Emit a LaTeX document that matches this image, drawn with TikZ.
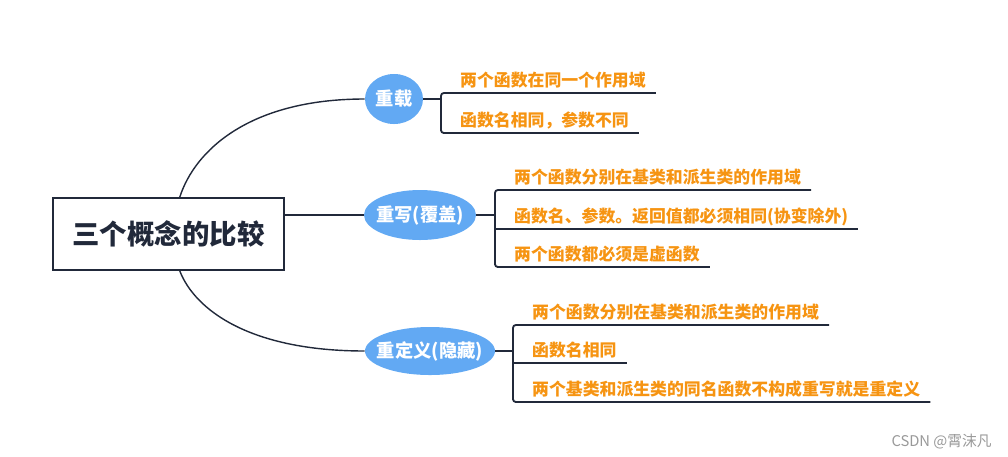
\documentclass[tikz,border=0pt]{standalone}
\usepackage{fontspec}
\setmainfont{Noto Sans CJK SC}
\usetikzlibrary{shapes.geometric}
\definecolor{navy}{RGB}{33,41,58}
\definecolor{topicblue}{RGB}{98,169,243}
\definecolor{itemorange}{RGB}{246,148,18}
\newcommand{\zerowidth}[1]{\makebox[0pt]{#1}}

\begin{document}
\begin{tikzpicture}[x=0.025cm, y=-0.025cm,
    root/.style={draw=navy, line width=1.4pt, minimum width=5.775cm, minimum height=1.8cm,
        text=navy, font=\fontsize{19.5}{20}\selectfont\bfseries},
    topic/.style={ellipse, fill=topicblue, inner sep=0pt, minimum height=1.25cm,
        text=white, font=\fontsize{13}{14}\selectfont\bfseries},
    item/.style={anchor=south west, inner xsep=7pt, inner ysep=0pt, text depth=4.6pt,
        text=itemorange, font=\fontsize{12}{13}\selectfont\bfseries},
    link/.style={draw=navy, line width=1pt},
    rail/.style={draw=navy, line width=1.3pt, rounded corners=2pt}]

    \useasboundingbox (0,0) rectangle (1008,456);

    \node[root] (root) at (168.5,234) {三个概念的比较};

    \node[topic, minimum width=1.45cm] (chongzai) at (394,99) {\zerowidth{重载}};
    \node[topic, minimum width=2.8cm] (chongxie) at (420,215) {\zerowidth{重写(覆盖)}};
    \node[topic, minimum width=3.25cm, minimum height=1.2cm] (chongdingyi) at (430,351) {\zerowidth{重定义(隐藏)}};

    \coordinate (rail1) at (441,99);
    \node[item] (cz1) at (450,93) {两个函数在同一个作用域};
    \node[item] (cz2) at (450,133) {函数名相同，参数不同};

    \coordinate (rail2) at (495,215);
    \node[item] (cx1) at (504,190) {两个函数分别在基类和派生类的作用域};
    \node[item] (cx2) at (504,229) {函数名、参数。返回值都必须相同(协变除外)};
    \node[item] (cx3) at (504,267) {两个函数都必须是虚函数};

    \coordinate (rail3) at (513,351);
    \node[item] (cd1) at (522,325) {两个函数分别在基类和派生类的作用域};
    \node[item] (cd2) at (522,363) {函数名相同};
    \node[item] (cd3) at (522,402) {两个基类和派生类的同名函数不构成重写就是重定义};

    \node[anchor=east, inner sep=0pt, text=gray!80, font=\fontsize{10.5}{11}\selectfont] (mark) at (992,442) {CSDN @霄沫凡};

    \draw[link] (root.73) .. controls (195,150) and (250,99) .. (chongzai.west);
    \draw[link] (root.east |- chongxie.west) -- (chongxie.west);
    \draw[link] (root.-73) .. controls (195,310) and (250,351) .. (chongdingyi.west);

    \draw[link] (chongzai.east) -- (chongzai.east -| rail1);
    \draw[rail] (cz1.south east) -- (cz1.south west -| rail1) -- (cz2.south west -| rail1) -- (cz2.south east);

    \draw[link] (chongxie.east) -- (chongxie.east -| rail2);
    \draw[rail] (cx1.south east) -- (cx1.south west -| rail2) -- (cx3.south west -| rail2) -- (cx3.south east);
    \draw[rail] (cx2.south west -| rail2) -- (cx2.south east);

    \draw[link] (chongdingyi.east) -- (chongdingyi.east -| rail3);
    \draw[rail] (cd1.south east) -- (cd1.south west -| rail3) -- (cd3.south west -| rail3) -- (cd3.south east);
    \draw[rail] (cd2.south west -| rail3) -- (cd2.south east);
\end{tikzpicture}
\end{document}
